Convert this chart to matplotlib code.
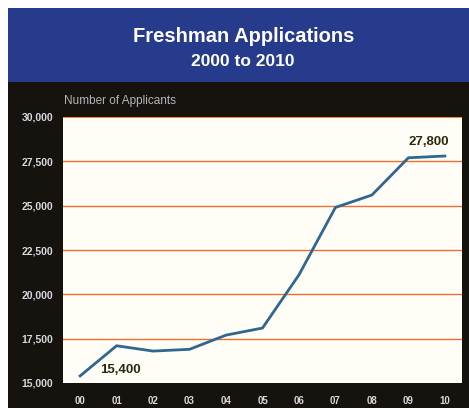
import matplotlib
matplotlib.use("Agg")
import matplotlib.pyplot as plt
from matplotlib.patches import Rectangle

# Freshman applications per year, 2000-2010
years = ["00", "01", "02", "03", "04", "05", "06", "07", "08", "09", "10"]
applicants = [15400, 17100, 16800, 16900, 17700, 18100, 21100, 24900, 25600, 27700, 27800]
y_ticks = [15000, 17500, 20000, 22500, 25000, 27500, 30000]
y_tick_labels = ["15,000", "17,500", "20,000", "22,500", "25,000", "27,500", "30,000"]

W, H = 469, 408
fig = plt.figure(figsize=(W / 100, H / 100), dpi=100)
fig.patch.set_facecolor("white")

sans = ["Liberation Sans", "DejaVu Sans"]

# Blue header band and black chart panel
fig.patches.append(Rectangle((8 / W, 1 - 82 / H), 1, 74 / H, transform=fig.transFigure,
                             facecolor="#273b8c", edgecolor="none", zorder=-2))
fig.patches.append(Rectangle((8 / W, 0), 1, 1 - 82 / H, transform=fig.transFigure,
                             facecolor="#16120e", edgecolor="none", zorder=-2))

fig.text(244 / W, 1 - 36 / H, "Freshman Applications", color="white", fontsize=14.5,
         fontweight="bold", family=sans, ha="center", va="center")
fig.text(243 / W, 1 - 62 / H, "2000 to 2010", color="white", fontsize=12.5,
         fontweight="bold", family=sans, ha="center", va="center")

# Plot area
left, right, top, bottom = 63, 462, 117, 383
ax = fig.add_axes([left / W, 1 - bottom / H, (right - left) / W, (bottom - top) / H])
ax.set_zorder(2)
ax.set_facecolor("#fffdf6")
x = list(range(len(years)))
ax.set_xlim(-0.47, 10.47)
ax.set_ylim(15000, 30000)

for v in y_ticks[1:-1]:
    ax.axhline(v, color="#e8712f", lw=1.0, zorder=1)
ax.axhline(y_ticks[-1], color="#e8903f", lw=0.8, zorder=1)

ax.plot(x, applicants, color="#2f6790", lw=2.0, zorder=3, solid_joinstyle="miter")

ax.set_yticks(y_ticks)
ax.set_yticklabels(y_tick_labels)
ax.set_xticks(x)
ax.set_xticklabels(years)
ax.tick_params(length=0, colors="#d8d8dc", pad=7)
ax.tick_params(axis="y", labelsize=7.5)
ax.tick_params(axis="x", labelsize=7, pad=9)
for lab in ax.get_xticklabels() + ax.get_yticklabels():
    lab.set_fontweight("bold")
    lab.set_family(sans)
for s in ax.spines.values():
    s.set_visible(False)

ax.text(1.1, 15750, "15,400", fontsize=9.5, fontweight="bold", color="#2b2a10",
        ha="center", va="center", family=sans)
ax.text(9.55, 28600, "27,800", fontsize=9.5, fontweight="bold", color="#2b2a10",
        ha="center", va="center", family=sans)

fig.text(64 / W, 1 - 101 / H, "Number of Applicants", color="#b4b4b8", fontsize=8.5,
         ha="left", va="center", family=sans)

fig.savefig("out.png", dpi=100, facecolor=fig.get_facecolor())
